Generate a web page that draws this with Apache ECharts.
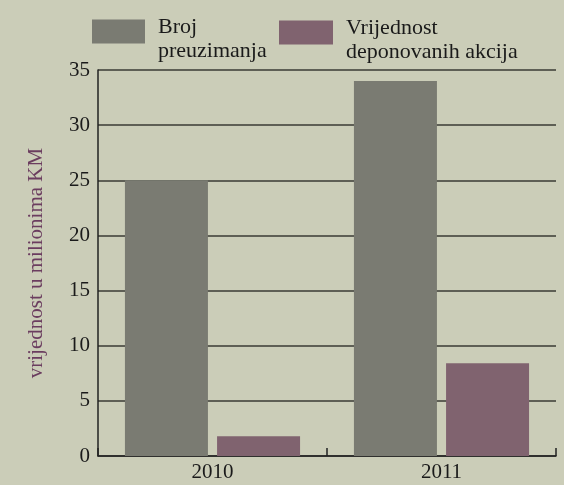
<!DOCTYPE html>
<html>
<head>
<meta charset="utf-8">
<script src="https://cdn.jsdelivr.net/npm/echarts@6/dist/echarts.min.js"></script>
<style>
  html, body { margin: 0; padding: 0; background: #cbcdb8; }
  #chart { width: 564px; height: 485px; }
</style>
</head>
<body>
<div id="chart"></div>
<script>
// podaci
const years = ['2010', '2011'];
const brojPreuzimanja = [25, 34];
const vrijednostAkcija = [1.8, 8.4];
const seriesNames = ['Broj\npreuzimanja', 'Vrijednost\ndeponovanih akcija'];

const font = 'Liberation Serif';
const chart = echarts.init(document.getElementById('chart'));

// tekst legende malo niže od pravougaonika
const legendText = {
  fontFamily: font,
  fontSize: 22,
  lineHeight: 24,
  color: '#1a1a1a',
  padding: [0, 0, 0, 8],
  rich: {
    s: { fontSize: 8, lineHeight: 15 },
    t: { fontFamily: font, fontSize: 22, lineHeight: 24, color: '#1a1a1a' }
  }
};
const legendFormatter = name =>
  '{s| }\n' + name.split('\n').map(l => '{t|' + l + '}').join('\n');

const option = {
  backgroundColor: '#cbcdb8',
  animation: false,
  textStyle: { fontFamily: font },
  legend: [
    {
      data: [seriesNames[0]],
      left: 92, top: 0, padding: 0,
      itemWidth: 53, itemHeight: 24,
      icon: 'rect',
      formatter: legendFormatter,
      textStyle: legendText
    },
    {
      data: [seriesNames[1]],
      left: 279, top: 1, padding: 0,
      itemWidth: 54, itemHeight: 24,
      icon: 'rect',
      formatter: legendFormatter,
      textStyle: legendText
    }
  ],
  grid: { left: 98, right: 8, top: 70, bottom: 29 },
  xAxis: {
    type: 'category',
    data: years,
    axisLine: { lineStyle: { color: '#222', width: 1.5 } },
    axisTick: { show: true, inside: true, length: 8, lineStyle: { color: '#222', width: 1.5 } },
    axisLabel: { fontFamily: font, fontSize: 21, color: '#1a1a1a', margin: 6 }
  },
  yAxis: {
    type: 'value',
    min: 0, max: 35, interval: 5,
    name: 'vrijednost u milionima KM',
    nameLocation: 'middle',
    nameGap: 51,
    nameTextStyle: { fontFamily: font, fontSize: 21, color: '#6b3d5f' },
    axisLine: { show: true, lineStyle: { color: '#222', width: 1.5 } },
    axisTick: { show: false },
    splitLine: { lineStyle: { color: '#3a3a35', width: 1.5 } },
    axisLabel: { fontFamily: font, fontSize: 21, color: '#1a1a1a', margin: 8 }
  },
  series: [
    {
      name: seriesNames[0],
      type: 'bar',
      data: brojPreuzimanja,
      barWidth: 83,
      barGap: '11%',
      itemStyle: { color: '#7a7b72' }
    },
    {
      name: seriesNames[1],
      type: 'bar',
      data: vrijednostAkcija,
      barWidth: 83,
      barGap: '11%',
      itemStyle: { color: '#80636f' }
    }
  ]
};

option && chart.setOption(option);
</script>
</body>
</html>
